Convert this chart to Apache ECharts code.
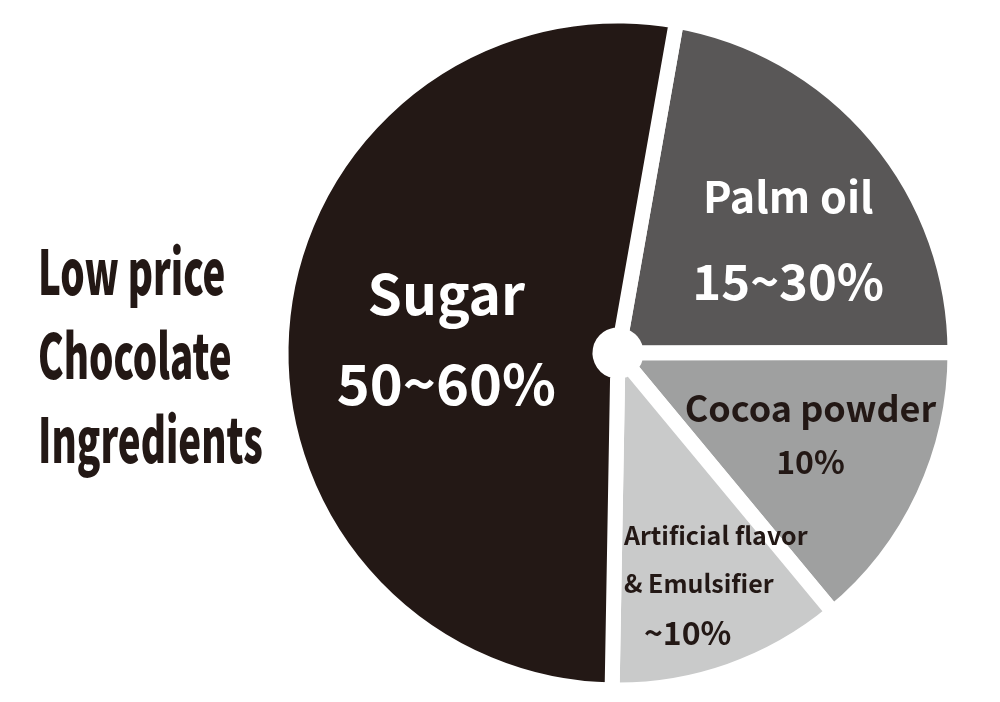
<!DOCTYPE html>
<html>
<head>
<meta charset="utf-8">
<script src="https://cdn.jsdelivr.net/npm/echarts@6/dist/echarts.min.js"></script>
<style>
  html, body { margin: 0; padding: 0; background: #ffffff; }
  #chart { width: 1000px; height: 702px; }
</style>
</head>
<body>
<div id="chart"></div>
<script>
// Ingredient shares, clockwise from the top
const categories = ['Palm oil', 'Cocoa powder', 'Artificial flavor\n& Emulsifier', 'Sugar'];
const shares = [22.2, 14.0, 11.3, 52.5];
const shareLabels = ['15~30%', '10%', '~10%', '50~60%'];
const titleLines = ['Low price', 'Chocolate', 'Ingredients'];

const colors = ['#595757', '#9fa0a0', '#c9caca', '#231815'];
const labelFont = '"Noto Sans CJK KR", "Noto Sans", sans-serif';

// per-slice label styling
const labelStyles = [
  { color: '#ffffff', nameSize: 43, pctSize: 49, nameLH: 84, pctLH: 84, dx: 32, dy: 2 },
  { color: '#231815', nameSize: 36, pctSize: 32, nameLH: 56, pctLH: 50, dx: 29, dy: 4 },
  { color: '#231815', nameSize: 25, pctSize: 32, nameLH: 48, pctLH: 52, dx: 38, dy: 62 },
  { color: '#ffffff', nameSize: 55, pctSize: 56, nameLH: 90, pctLH: 90, dx: 8, dy: 3 }
];

const data = categories.map((name, i) => {
  const s = labelStyles[i];
  const nameLines = name.split('\n');
  const isArt = i === 2;
  return {
    name: name,
    value: shares[i],
    itemStyle: { color: colors[i] },
    label: {
      formatter: nameLines.map(l => '{n|' + l + '}').join('\n') + '\n{p|' + shareLabels[i] + '}',
      align: isArt ? 'left' : 'center',
      rich: {
        n: { color: s.color, fontSize: s.nameSize, fontWeight: 'bold', fontFamily: labelFont, lineHeight: s.nameLH, align: isArt ? 'left' : 'center' },
        p: { color: s.color, fontSize: s.pctSize, fontWeight: 'bold', fontFamily: labelFont, lineHeight: s.pctLH, align: isArt ? 'left' : 'center', padding: isArt ? [0, 0, 0, 20] : 0 }
      }
    }
  };
});

const chart = echarts.init(document.getElementById('chart'), null, { renderer: 'canvas' });
chart.setOption({
  backgroundColor: '#ffffff',
  animation: false,
  graphic: [{
    type: 'text',
    x: 38,
    y: 355,
    scaleX: 0.62,
    style: {
      text: titleLines.join('\n'),
      font: '900 62px "Noto Sans CJK KR", sans-serif',
      fill: '#231815',
      lineHeight: 84,
      align: 'left',
      verticalAlign: 'middle'
    }
  }],
  series: [{
    type: 'pie',
    center: [618, 353],
    radius: [18, 337],
    startAngle: 80,
    clockwise: true,
    avoidLabelOverlap: false,
    itemStyle: { borderColor: '#ffffff', borderWidth: 15 },
    label: { show: true, position: 'inside' },
    labelLine: { show: false },
    labelLayout: function (params) {
      const s = labelStyles[params.dataIndex];
      return { dx: s.dx, dy: s.dy };
    },
    emphasis: { disabled: true },
    data: data
  }]
});
</script>
</body>
</html>
